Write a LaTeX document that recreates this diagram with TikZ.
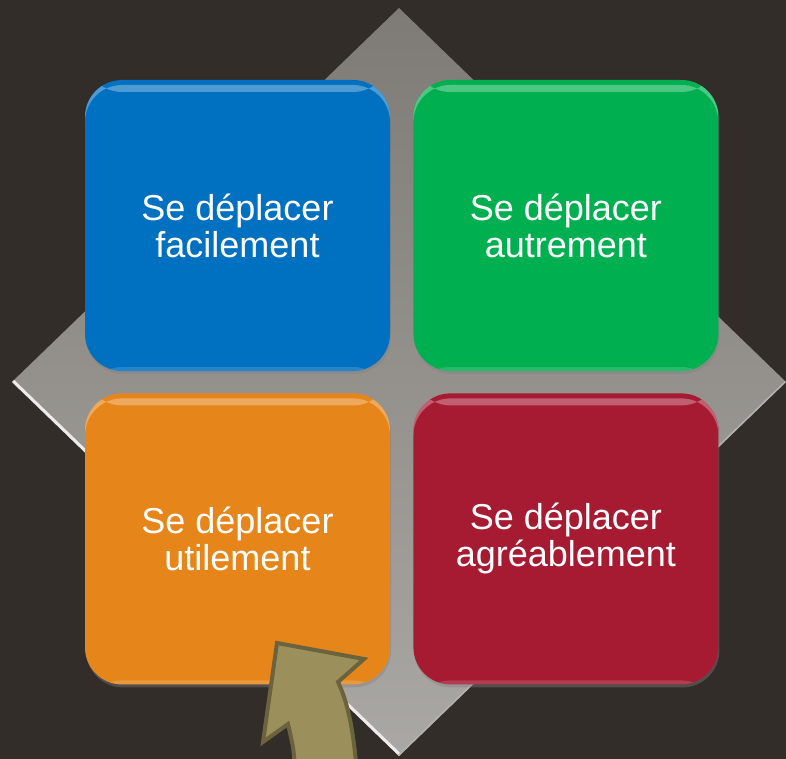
\documentclass[tikz,border=0pt]{standalone}
\usepackage{fontspec}
\setmainfont{Liberation Sans}
\usetikzlibrary{positioning}
\usetikzlibrary{shadows}

\definecolor{bgbrown}{RGB}{50,45,41}
\definecolor{diagtop}{RGB}{126,123,118}
\definecolor{diagbot}{RGB}{170,168,164}
\definecolor{tileblue}{RGB}{0,112,192}
\definecolor{tilegreen}{RGB}{0,176,80}
\definecolor{tileorange}{RGB}{230,134,26}
\definecolor{tilered}{RGB}{166,26,50}
\definecolor{arrowfill}{RGB}{155,143,92}
\definecolor{arrowline}{RGB}{107,99,61}

\tikzset{
  tile/.style={rectangle, rounded corners=37pt, minimum width=305pt,
    minimum height=291pt, inner sep=0pt, text=white, align=center,
    font=\fontsize{36}{37}\selectfont,
    drop shadow={opacity=0.4, shadow xshift=1pt, shadow yshift=-3pt},
    path picture={
      \fill[white, opacity=0.3] ([yshift=-5pt]path picture bounding box.north west)
        rectangle ([yshift=-12pt]path picture bounding box.north east);
      \fill[white, opacity=0.15] ([yshift=4pt]path picture bounding box.south west)
        rectangle (path picture bounding box.south east);
    }},
  bigarrow/.style={fill=arrowfill, draw=arrowline, line width=4pt}
}

\begin{document}
\begin{tikzpicture}[x=1pt, y=-1pt, node distance=22pt and 23pt]

  \fill[bgbrown] (0,0) rectangle (786,759);
  \useasboundingbox (0,0) rectangle (786,759);

  % Diamond
  \coordinate (dtop) at (399,8);
  \coordinate (dright) at (786,382);
  \coordinate (dbottom) at (399,756);
  \coordinate (dleft) at (12,382);
  \shade[top color=diagtop, bottom color=diagbot]
    (dtop) -- (dright) -- (dbottom) -- (dleft) -- cycle;
  \begin{scope}
    \clip (dtop) -- (dright) -- (dbottom) -- (dleft) -- cycle;
    \draw[white!85!gray, line width=6pt] (dleft) -- (dbottom);
    \draw[gray!60, line width=3pt] (dbottom) -- (dright);
  \end{scope}

  % Define nodes
  \node[tile, fill=tileblue] (easy) at (237.5,225.5) {Se déplacer\\facilement};
  \node[tile, fill=tilegreen, right=of easy] (other) {Se déplacer\\autrement};
  \node[tile, fill=tileorange, below=of easy] (useful) {Se déplacer\\utilement};
  \node[tile, fill=tilered, right=of useful] (nice) {Se déplacer\\agréablement};

  % Arrow
  \draw[bigarrow] (295,775) .. controls (294,750) .. (288,724) -- (263,742)
    -- (277,643) -- (364,659) -- (338,682)
    .. controls (349,705) and (354,735) .. (357,775) -- cycle;

\end{tikzpicture}
\end{document}
